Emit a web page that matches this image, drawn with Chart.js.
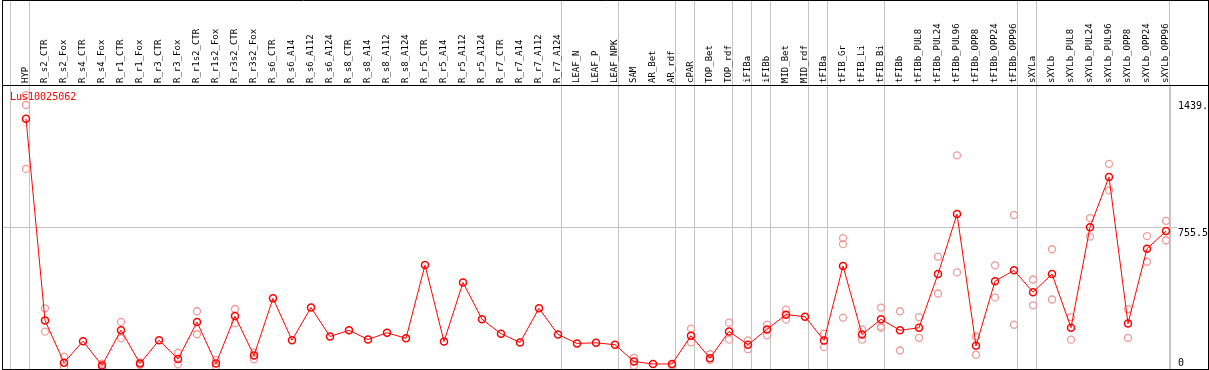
<!DOCTYPE html>
<html><head><meta charset="utf-8">
<script src="https://cdn.jsdelivr.net/npm/chart.js@4.4.1/dist/chart.umd.min.js"></script>
<style>html,body{margin:0;padding:0;background:#fff;} #wrap{width:1209px;height:370px;position:relative;}</style>
</head><body><div id="wrap"><canvas id="c" width="1209" height="370"></canvas></div>
<script>
const chartTitle = 'Lus10025062';
const categories = ['HYP','R_s2_CTR','R_s2_Fox','R_s4_CTR','R_s4_Fox','R_r1_CTR','R_r1_Fox','R_r3_CTR','R_r3_Fox','R_r1s2_CTR','R_r1s2_Fox','R_r3s2_CTR','R_r3s2_Fox','R_s6_CTR','R_s6_A14','R_s6_A112','R_s6_A124','R_s8_CTR','R_s8_A14','R_s8_A112','R_s8_A124','R_r5_CTR','R_r5_A14','R_r5_A112','R_r5_A124','R_r7_CTR','R_r7_A14','R_r7_A112','R_r7_A124','LEAF_N','LEAF_P','LEAF_NPK','SAM','AR_Bet','AR_rdf','cPAR','TOP_Bet','TOP_rdf','iFIBa','iFIBb','MID_Bet','MID_rdf','tFIBa','tFIB_Gr','tFIB_Li','tFIB_Bi','tFIBb','tFIBb_PUL8','tFIBb_PUL24','tFIBb_PUL96','tFIBb_OPP8','tFIBb_OPP24','tFIBb_OPP96','sXYLa','sXYLb','sXYLb_PUL8','sXYLb_PUL24','sXYLb_PUL96','sXYLb_OPP8','sXYLb_OPP24','sXYLb_OPP96'];
const meanValues = [1340,260,34,149,19,208,29,154,53,251,29,283,72,378,154,329,174,207,158,194,164,556,147,463,266,189,142,325,185,137,140,130,40,27,27,178,58,201,130,212,291,280,153,551,185,266,207,221,508,829,124,470,528,411,508,221,759,1028,243,644,738];
const rep1 = [1466,325,66,null,28,252,35,null,87,309,48,321,87,null,null,null,null,null,null,null,null,null,null,null,null,null,null,null,null,null,null,null,60,null,null,216,79,248,153,237,318,null,189,700,212,329,309,278,601,1143,174,555,824,479,641,278,808,1098,320,711,793];
const rep2 = [1071,200,11,null,10,164,22,null,25,186,9,245,52,null,null,null,null,null,null,null,null,null,null,null,null,null,null,null,null,null,null,null,17,null,18,142,48,157,106,180,264,null,117,275,157,228,99,167,404,517,76,383,237,341,372,157,709,956,167,574,689];
const rep3 = [1414,null,null,null,null,null,null,null,null,null,null,null,null,null,null,null,null,null,null,null,null,null,null,null,null,null,null,null,null,null,null,null,null,null,null,null,null,null,null,null,null,null,null,668,null,220,null,null,null,null,null,null,null,null,null,null,null,null,null,null,null];
const groupBoundaries = [-0.8,0.2,28.2,31.2,34.2,35.2,37.2,38.2,39.2,41.2,42.2,45.2,52.2,53.2,60.2];
const yTickValues = [0,755.5,1439];
const yTickLabels = ['0','755.5','1439.'];

const pts = arr => arr.map((v,i) => v === null ? null : {x:i, y:v}).filter(p => p);
const GRID = '#c4c4c4';
const MONO = 'DejaVu Sans Mono';
const noPad = s => { s.paddingLeft = 0; s.paddingRight = 0; s.paddingTop = 0; s.paddingBottom = 0; };

const framePlugin = {
  id: 'frame',
  afterDraw(chart) {
    const ctx = chart.ctx;
    ctx.save();
    ctx.strokeStyle = '#000';
    ctx.lineWidth = 1;
    ctx.beginPath();
    ctx.moveTo(2, 0.5); ctx.lineTo(1208.5, 0.5);
    ctx.moveTo(2, 85.5); ctx.lineTo(1208.5, 85.5);
    ctx.moveTo(2, 369.5); ctx.lineTo(1208.5, 369.5);
    ctx.moveTo(2.5, 0); ctx.lineTo(2.5, 370);
    ctx.moveTo(1208.5, 0); ctx.lineTo(1208.5, 370);
    ctx.stroke();
    ctx.fillStyle = '#ff0000';
    ctx.font = '10px "' + MONO + '"';
    ctx.textBaseline = 'middle';
    ctx.textAlign = 'left';
    ctx.fillText(chartTitle, 10, 97);
    ctx.restore();
  }
};

new Chart(document.getElementById('c'), {
  type: 'line',
  data: {
    datasets: [
      { data: pts(meanValues), borderColor: '#ff0000', borderWidth: 1, pointRadius: 3.5, pointBorderWidth: 1.5,
        pointBackgroundColor: 'rgba(0,0,0,0)', pointBorderColor: '#ff0000', showLine: true, tension: 0, clip: false },
      { data: pts(rep1), showLine: false, pointRadius: 3.5, pointBorderWidth: 1.3, pointBorderColor: '#f09a9a', pointBackgroundColor: 'rgba(0,0,0,0)', clip: false },
      { data: pts(rep2), showLine: false, pointRadius: 3.5, pointBorderWidth: 1.3, pointBorderColor: '#f09a9a', pointBackgroundColor: 'rgba(0,0,0,0)', clip: false },
      { data: pts(rep3), showLine: false, pointRadius: 3.5, pointBorderWidth: 1.3, pointBorderColor: '#f09a9a', pointBackgroundColor: 'rgba(0,0,0,0)', clip: false }
    ]
  },
  options: {
    responsive: false,
    animation: false,
    events: [],
    layout: { autoPadding: false, padding: { left: 2, right: 0, top: 0, bottom: 1 } },
    plugins: { legend: { display: false }, tooltip: { enabled: false }, title: { display: false } },
    scales: {
      x: {
        type: 'linear', position: 'bottom', min: -24/19, max: -24/19 + 1168/19,
        afterBuildTicks: s => { s.ticks = groupBoundaries.map(v => ({value: v})); },
        afterFit: s => { s.height = 0; noPad(s); },
        ticks: { display: false },
        grid: { color: GRID, lineWidth: 1, drawTicks: false },
        border: { display: false }
      },
      xb: {
        type: 'linear', position: 'top', weight: 0, min: -24/19, max: -24/19 + 1168/19,
        afterBuildTicks: s => { s.ticks = groupBoundaries.map(v => ({value: v})); },
        afterFit: s => { s.height = 0; noPad(s); },
        ticks: { display: false },
        grid: { color: GRID, lineWidth: 1, drawOnChartArea: false, drawTicks: true, tickLength: 85 },
        border: { display: false }
      },
      xl: {
        type: 'linear', position: 'top', weight: 1, min: -24/19, max: -24/19 + 1168/19,
        afterBuildTicks: s => { s.ticks = categories.map((c, i) => ({value: i})); },
        afterFit: s => { s.height = 85; noPad(s); },
        ticks: { autoSkip: false, minRotation: 90, maxRotation: 90, padding: 2, labelOffset: 10.3, color: '#000',
          font: { family: MONO, size: 9 }, callback: v => categories[v] },
        grid: { display: false, drawTicks: false },
        border: { display: false }
      },
      y: {
        type: 'linear', position: 'right', min: 0, max: 1520,
        afterBuildTicks: s => { s.ticks = yTickValues.map(v => ({value: v})); },
        afterFit: s => { s.width = 39; noPad(s); },
        ticks: { padding: 1, color: '#000', font: { family: MONO, size: 10 },
          callback: v => { const l = yTickLabels[yTickValues.indexOf(v)]; return v === 0 ? [l, ''] : ['', l]; } },
        grid: { color: c => (c.tick && c.tick.value === 755.5) ? GRID : 'rgba(0,0,0,0)', drawTicks: true, tickLength: 7 },
        border: { display: true, color: GRID }
      }
    }
  },
  plugins: [framePlugin]
});
</script>
</body></html>
